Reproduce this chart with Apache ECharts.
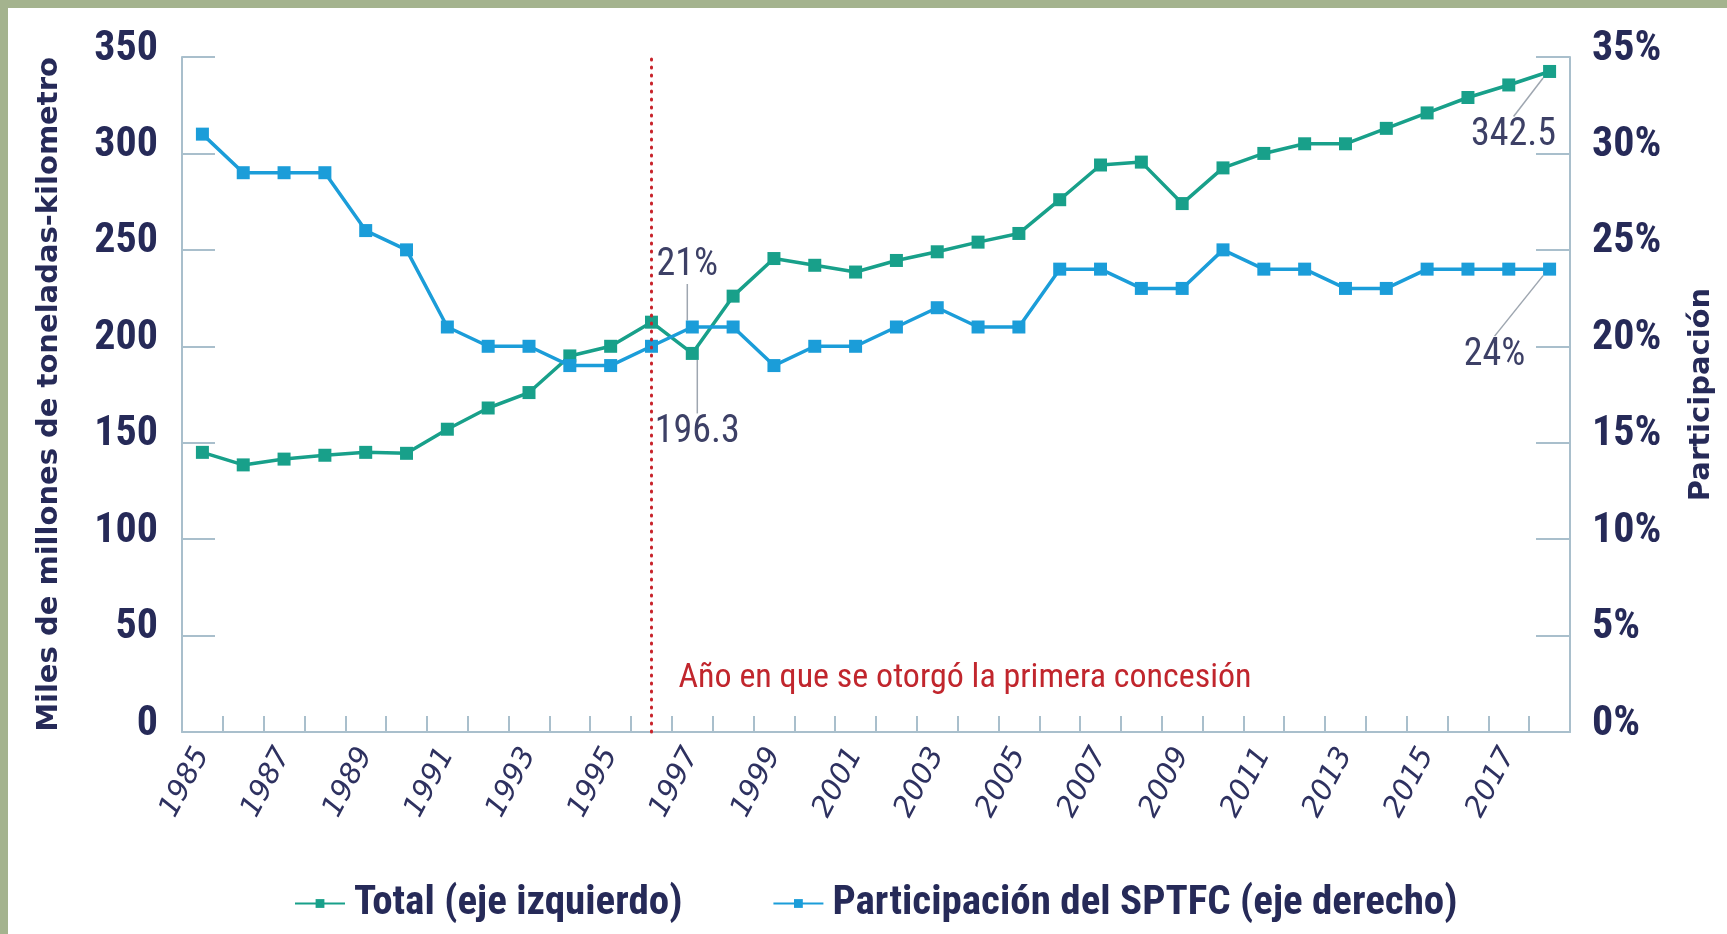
<!DOCTYPE html>
<html>
<head>
<meta charset="utf-8">
<script src="https://cdn.jsdelivr.net/npm/echarts@6/dist/echarts.min.js"></script>
<style>
html,body{margin:0;padding:0;background:#fff;}
#chart{width:1727px;height:934px;}
</style>
</head>
<body>
<div id="chart"></div>
<script>
const years = ['1985','1986','1987','1988','1989','1990','1991','1992','1993','1994','1995','1996','1997','1998','1999','2000','2001','2002','2003','2004','2005','2006','2007','2008','2009','2010','2011','2012','2013','2014','2015','2016','2017','2018'];
const totalValues = [145, 138.5, 141.5, 143.5, 145, 144.5, 157, 168, 176, 195, 200, 212.5, 196.3, 226, 245.5, 242, 238.5, 244.5, 249, 254, 258.5, 276, 294, 295.5, 274, 292.5, 300, 305, 305, 313, 321, 329, 335.5, 342.5];
const shareValues = [31, 29, 29, 29, 26, 25, 21, 20, 20, 19, 19, 20, 21, 21, 19, 20, 20, 21, 22, 21, 21, 24, 24, 23, 23, 25, 24, 24, 23, 23, 24, 24, 24, 24];
const leftTicks = [0, 50, 100, 150, 200, 250, 300, 350];
const rightTicks = [0, 5, 10, 15, 20, 25, 30, 35];
const seriesNames = ['Total (eje izquierdo)', 'Participación del SPTFC (eje derecho)'];
const axisNames = ['Miles de millones de toneladas-kilometro', 'Participación'];
const concessionYear = '1996';
const concessionText = 'Año en que se otorgó la primera concesión';
const totalLabels = {'1997': '196.3', '2018': '342.5'};
const shareLabels = {'1997': '21%', '2018': '24%'};

const GREEN = '#18a08a';
const BLUE = '#1b9dd9';
const NAVY = '#262a58';
const AXIS = '#a9bfcc';
const NARROW = '"Liberation Sans Narrow", "Arial Narrow", "Roboto Condensed", sans-serif';

const annotStyle = {fontFamily: NARROW, fontSize: 38, color: '#3d4066', fontWeight: 'normal'};

function buildData(values, labels) {
  return values.map((v, i) => {
    const y = years[i];
    if (labels[y]) {
      return {
        value: v,
        label: Object.assign({show: true, position: 'inside', formatter: labels[y]}, annotStyle),
        labelLine: {show: true, lineStyle: {color: '#9ea6b0', width: 1.5}}
      };
    }
    return v;
  });
}

const offsets = {
  0: {12: {dx: 5, dy: 79}, 33: {dx: -36, dy: 64}},
  1: {12: {dx: -5, dy: -62}, 33: {dx: -55, dy: 86}}
};

const chart = echarts.init(document.getElementById('chart'));
const border = [
  {type: 'rect', left: 0, top: 0, shape: {width: 1727, height: 8}, style: {fill: '#a4b38e'}, z: 100},
  {type: 'rect', left: 0, top: 0, shape: {width: 8, height: 934}, style: {fill: '#a4b38e'}, z: 100}
];
const option = {
  backgroundColor: '#ffffff',
  animation: false,
  grid: {left: 182, right: 157, top: 57, bottom: 202, containLabel: false},
  legend: {
    data: seriesNames,
    left: 289,
    top: 878,
    itemWidth: 50,
    itemHeight: 11,
    itemGap: 90,
    textStyle: {fontFamily: NARROW, fontWeight: 'bold', fontSize: 41, color: NAVY, padding: [0, 0, 0, 4]}
  },
  xAxis: {
    type: 'category',
    data: years,
    boundaryGap: true,
    axisLine: {show: true, lineStyle: {color: AXIS, width: 2}},
    axisTick: {show: true, inside: true, length: 16, interval: 0, lineStyle: {color: AXIS, width: 2}},
    axisLabel: {
      interval: 1, rotate: 62, margin: 18,
      fontFamily: '"DejaVu Sans", sans-serif', fontStyle: 'italic', fontSize: 29, color: '#2e3160'
    },
    splitLine: {show: false}
  },
  yAxis: [
    {
      type: 'value', min: 0, max: 350, interval: 50, position: 'left',
      name: axisNames[0], nameLocation: 'middle', nameGap: 118,
      nameTextStyle: {fontFamily: '"DejaVu Sans", sans-serif', fontWeight: 'bold', fontSize: 29, color: NAVY},
      axisLine: {show: true, lineStyle: {color: AXIS, width: 2}},
      axisTick: {show: true, inside: true, length: 33, lineStyle: {color: AXIS, width: 2}},
      axisLabel: {
        margin: 24, fontFamily: NARROW, fontWeight: 'bold', fontSize: 42, color: NAVY,
        verticalAlign: 'bottom', lineHeight: 16,
        formatter: v => leftTicks.indexOf(v) >= 0 ? String(v) : ''
      },
      splitLine: {show: false}
    },
    {
      type: 'value', min: 0, max: 35, interval: 5, position: 'right',
      name: axisNames[1], nameLocation: 'middle', nameGap: 117,
      nameTextStyle: {fontFamily: '"DejaVu Sans", sans-serif', fontWeight: 'bold', fontSize: 29, color: NAVY},
      axisLine: {show: true, lineStyle: {color: AXIS, width: 2}},
      axisTick: {show: true, inside: true, length: 34, lineStyle: {color: AXIS, width: 2}},
      axisLabel: {
        margin: 22, fontFamily: NARROW, fontWeight: 'bold', fontSize: 42, color: NAVY,
        verticalAlign: 'bottom', lineHeight: 16,
        formatter: v => rightTicks.indexOf(v) >= 0 ? v + '%' : ''
      },
      splitLine: {show: false}
    }
  ],
  series: [
    {
      name: seriesNames[0], type: 'line', yAxisIndex: 0,
      data: buildData(totalValues, totalLabels),
      symbol: 'rect', symbolSize: 13,
      lineStyle: {color: GREEN, width: 3.5},
      itemStyle: {color: GREEN},
      labelLayout: p => (offsets[0][p.dataIndex] || {}),
      z: 3,
      markLine: {
        silent: true, symbol: 'none',
        label: {show: false},
        lineStyle: {color: '#c8242b', width: 3, type: [1, 7], cap: 'round'},
        data: [{xAxis: concessionYear}]
      }
    },
    {
      name: seriesNames[1], type: 'line', yAxisIndex: 1,
      data: buildData(shareValues, shareLabels),
      symbol: 'rect', symbolSize: 13,
      lineStyle: {color: BLUE, width: 3.5},
      itemStyle: {color: BLUE},
      labelLayout: p => (offsets[1][p.dataIndex] || {}),
      z: 4
    }
  ],
  graphic: border
};
chart.setOption(option);

const px = chart.convertToPixel({xAxisIndex: 0}, concessionYear);
const py = chart.convertToPixel({yAxisIndex: 0}, 0);
chart.setOption({
  graphic: border.concat([
    {type: 'text', x: px + 27, y: py - 54, style: {text: concessionText, fontFamily: NARROW, fontSize: 34, fill: '#c1262d', textVerticalAlign: 'middle'}, z: 50}
  ])
});
</script>
</body>
</html>
